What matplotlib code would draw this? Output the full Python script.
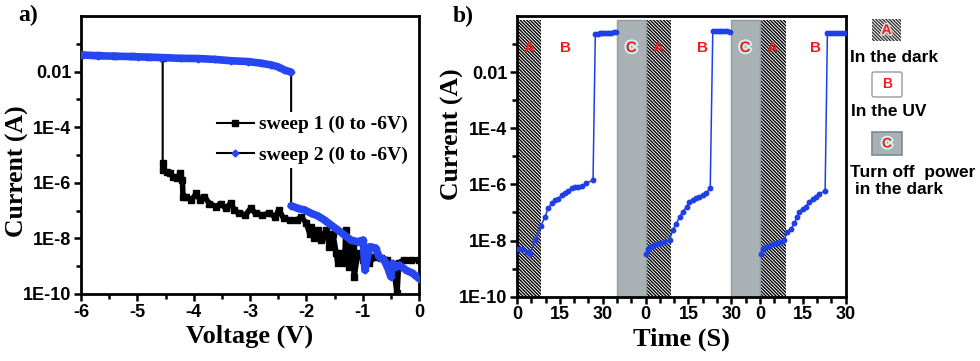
import numpy as np
import matplotlib
matplotlib.use("Agg")
import matplotlib.pyplot as plt
from matplotlib.patches import Rectangle, FancyBboxPatch
from matplotlib.transforms import Affine2D
import matplotlib.patheffects as pe

# ---------------- data: panel a ----------------
sweep1_v = [0, -0.15, -0.27, -0.36, -0.39, -0.45, -0.56, -0.68, -0.79, -0.88,
            -0.94, -1.00, -1.09, -1.15, -1.18, -1.24, -1.30, -1.32, -1.38, -1.44,
            -1.47, -1.53, -1.59, -1.65, -1.74, -1.80, -1.86, -1.91, -1.94, -2.00,
            -2.09, -2.17, -2.29, -2.40, -2.49, -2.55, -2.66, -2.78, -2.90, -2.99,
            -3.08, -3.19, -3.28, -3.34, -3.43, -3.52, -3.60, -3.72, -3.81, -3.89,
            -3.95, -4.04, -4.13, -4.19, -4.20, -4.24, -4.30, -4.36, -4.42, -4.48,
            -4.54, -4.55, -4.55, -4.8, -5.1, -5.4, -5.7, -6.0]
sweep1_i = [1.7e-9, 1.7e-9, 1.7e-9, 1.3e-9, 1.05e-10, 9.5e-10, 1.7e-9, 2.0e-9, 2.2e-9, 1.3e-9,
            2.9e-9, 1.7e-9, 2.9e-9, 4.2e-10, 5.0e-9, 9.5e-10, 2.0e-8, 1.3e-9, 2.9e-9, 1.3e-9,
            2.9e-9, 1.5e-8, 5.0e-9, 2.0e-8, 8.7e-9, 2.0e-8, 1.0e-8, 2.6e-8, 1.5e-8, 3.5e-8,
            6.0e-8, 4.6e-8, 4.6e-8, 5.2e-8, 1.05e-7, 6.0e-8, 7.9e-8, 6.9e-8, 7.9e-8, 1.2e-7,
            6.9e-8, 7.9e-8, 1.05e-7, 1.9e-7, 1.2e-7, 1.8e-7, 1.4e-7, 1.8e-7, 3.2e-7, 2.4e-7,
            4.2e-7, 2.4e-7, 3.2e-7, 3.2e-7, 1.26e-6, 2.2e-6, 1.45e-6, 1.66e-6, 2.2e-6, 2.5e-6,
            2.9e-6, 5.0e-6, 0.032, 0.034, 0.035, 0.036, 0.038, 0.040]

sweep2_v = [0, -0.11, -0.23, -0.35, -0.41, -0.47, -0.50, -0.56, -0.62, -0.71,
            -0.77, -0.87, -0.90, -0.96, -0.99, -1.09, -1.21, -1.32, -1.44, -1.56,
            -1.68, -1.80, -1.91, -2.03, -2.15, -2.27, -2.27, -2.39, -2.51, -2.63,
            -2.80, -3.04, -3.33, -3.63, -3.92, -4.22, -4.58, -4.99, -5.41, -5.70, -6.0]
sweep2_i = [3.6e-10, 5.5e-10, 7.2e-10, 1.1e-9, 9.5e-10, 1.26e-9, 4.2e-10, 9.5e-10, 1.66e-9, 2.2e-9,
            4.5e-9, 5.0e-9, 2.9e-9, 7.2e-10, 8.7e-9, 7.6e-9, 8.7e-9, 1.3e-8, 2.0e-8, 3.0e-8,
            4.6e-8, 6.5e-8, 7.9e-8, 1.05e-7, 1.2e-7, 1.5e-7, 9.5e-3, 0.0115, 0.0151, 0.0174,
            0.020, 0.023, 0.0245, 0.0275, 0.0295, 0.030, 0.032, 0.034, 0.036, 0.037, 0.040]

sweep_labels = ["sweep 1 (0 to -6V)", "sweep 2 (0 to -6V)"]
volt_ticks = [-6, -5, -4, -3, -2, -1, 0]

# ---------------- data: panel b ----------------
cycle1_t = [0.2, 1.6, 3.4, 4.5, 6.3, 8.4, 9.8, 10.9, 12.1, 13.3, 14.4, 15.6, 16.7, 17.9,
            19.1, 20.2, 21.4, 22.6, 24.3, 26.6, 27.4, 28.2, 29.0, 29.8, 30.6, 31.4,
            32.2, 33.0, 33.8, 34.8]
cycle1_i = [5.2e-9, 4.9e-9, 4.0e-9, 3.3e-9, 1.05e-8, 3.3e-8, 7.1e-8, 1.4e-7, 2.1e-7, 2.75e-7,
            3.0e-7, 4.2e-7, 4.8e-7, 5.9e-7, 7.2e-7, 7.9e-7, 8.3e-7, 8.9e-7, 1.1e-6, 1.45e-6,
            0.23, 0.235, 0.24, 0.24, 0.24, 0.245, 0.25, 0.257, 0.265, 0.275]
cycle2_t = [45.2, 45.8, 46.4, 47.5, 48.7, 49.9, 51.6, 53.4, 54.5, 55.7, 56.9, 58.0, 59.4,
            60.3, 61.5, 62.7, 63.8, 65.0, 66.2, 67.6, 68.5, 69.5, 70.5, 71.5, 72.5, 73.5, 74.6]
cycle2_i = [3.3e-9, 5.2e-9, 6.0e-9, 6.6e-9, 7.4e-9, 7.9e-9, 9.1e-9, 1.05e-8, 2.4e-8, 3.9e-8,
            7.1e-8, 1.07e-7, 1.6e-7, 2.4e-7, 2.75e-7, 3.2e-7, 3.6e-7, 4.2e-7, 5.0e-7, 7.2e-7,
            0.295, 0.295, 0.295, 0.295, 0.295, 0.295, 0.275]
cycle3_t = [85.3, 85.9, 87.1, 88.2, 89.4, 90.6, 92.1, 93.5, 94.6, 95.8, 97.0, 98.1, 98.7,
            99.9, 101.0, 102.2, 103.4, 104.5, 105.7, 107.8, 108.6, 109.6, 110.6, 111.6,
            112.6, 113.6, 114.8]
cycle3_i = [3.3e-9, 5.2e-9, 6.0e-9, 6.6e-9, 7.4e-9, 7.9e-9, 9.1e-9, 1.05e-8, 2.1e-8, 2.5e-8,
            4.1e-8, 7.1e-8, 1.07e-7, 1.3e-7, 1.6e-7, 2.4e-7, 3.0e-7, 3.6e-7, 4.6e-7, 6.0e-7,
            0.24, 0.24, 0.24, 0.24, 0.24, 0.24, 0.24]

dark_spans = [(0, 8.5), (45, 54), (85, 94)]      # A: in the dark
off_spans = [(35, 45), (75, 85)]                  # C: power off
time_ticks = [0, 15, 30, 45, 60, 75, 85, 100, 115]
time_ticklabels = ["0", "15", "30", "0", "15", "30", "0", "15", "30"]
region_labels = [("A", 4.2), ("B", 17), ("C", 40), ("A", 49.2), ("B", 64.8),
                 ("C", 79.8), ("A", 89.2), ("B", 104.5)]
legend_texts = ["In the dark", "In the UV", "Turn off  power\n in the dark"]

# ---------------- style ----------------
SERIF = "Liberation Serif"
SANS = "Liberation Sans"
BLUE_A = "#2546f0"
BLUE_B = "#1f3fe6"
RED = "#f01c1c"
GRAY_C = "#a9b1b4"
HATCH = "\\" * 10

W, H = 980, 361
fig = plt.figure(figsize=(W / 100, H / 100), dpi=100)
px = Affine2D().scale(1 / W, -1 / H).translate(0, 1) + fig.transFigure

def style_axes(ax):
    for s in ax.spines.values():
        s.set_linewidth(2.0)
    ax.tick_params(which="major", direction="out", length=5, width=1.8, pad=2)
    ax.tick_params(which="minor", direction="out", length=3.5, width=1.8)
    for lab in ax.get_xticklabels() + ax.get_yticklabels():
        lab.set_fontfamily(SANS)
        lab.set_fontweight("bold")
        lab.set_fontsize(13)

def setup_log_y(ax):
    ax.set_yscale("log")
    ax.set_ylim(1e-10, 1)
    ax.set_yticks([1e-10, 1e-8, 1e-6, 1e-4, 1e-2])
    ax.set_yticklabels(["1E-10", "1E-8", "1E-6", "1E-4", "0.01"])
    ax.set_yticks([1e-9, 1e-7, 1e-5, 1e-3, 1e-1], minor=True)
    ax.yaxis.set_minor_formatter(plt.NullFormatter())

# ---------------- panel a ----------------
ax1 = fig.add_axes([81 / W, 1 - 294 / H, 338 / W, 278 / H])
setup_log_y(ax1)

def band(ax, v, i, color, lw, z):
    v = np.asarray(v); i = np.asarray(i)
    ratio = np.abs(np.log10(i[1:]) - np.log10(i[:-1]))
    cuts = np.where(ratio > 2)[0] + 1
    start = 0
    for c in list(cuts) + [len(v)]:
        ax.plot(v[start:c], i[start:c], color=color, lw=lw, solid_capstyle="round",
                solid_joinstyle="round", zorder=z)
        start = c

band(ax1, sweep1_v, sweep1_i, "black", 4.0, 2)
l1, = ax1.plot(sweep1_v, sweep1_i, color="black", lw=1.5, marker="s", ms=4,
               mfc="black", mec="black", label=sweep_labels[0], zorder=3)
l2, = ax1.plot(sweep2_v, sweep2_i, color="black", lw=1.5, marker="D", ms=3.5,
               mfc=BLUE_A, mec=BLUE_A, label=sweep_labels[1], zorder=4)
band(ax1, sweep2_v, sweep2_i, BLUE_A, 5.5, 5)

ax1.set_xlim(-6, 0)
ax1.set_xticks(volt_ticks)
ax1.set_xticks(np.arange(-5.5, 0, 1.0), minor=True)
ax1.set_xticklabels([str(t) for t in volt_ticks])
style_axes(ax1)
ax1.set_xlabel("Voltage (V)", fontfamily=SERIF, fontweight="bold", fontsize=19, labelpad=3)
ax1.set_ylabel("Current (A)", fontfamily=SERIF, fontweight="bold", fontsize=18.5)
ax1.yaxis.set_label_coords(-0.155, 0.44)

leg = ax1.legend(handles=[l1, l2], loc="center left", bbox_to_anchor=(0.39, 0.555),
                 frameon=True, framealpha=1, edgecolor="none", facecolor="white",
                 prop={"family": SERIF, "weight": "bold", "size": 14},
                 handlelength=1.9, handletextpad=0.3, labelspacing=0.65,
                 borderpad=0.2, borderaxespad=0)
leg.set_zorder(6)

fig.text(18 / W, 1 - 15 / H, "a)", fontfamily=SERIF, fontweight="bold", fontsize=17,
         va="center", ha="left")

# ---------------- panel b ----------------
ax2 = fig.add_axes([517 / W, 1 - 296.7 / H, 328.7 / W, 280.7 / H])
setup_log_y(ax2)
ax2.set_xlim(0, 115)

for a, b in dark_spans:
    ax2.add_patch(Rectangle((a, 1e-10), b - a, 0.75 - 1e-10, facecolor="white",
                            edgecolor="black", hatch=HATCH, lw=0.0, zorder=1))
for a, b in off_spans:
    ax2.add_patch(Rectangle((a, 1e-10), b - a, 0.75 - 1e-10, facecolor=GRAY_C,
                            edgecolor="#8e9ea5", lw=1.0, zorder=1))

for t, i in [(cycle1_t, cycle1_i), (cycle2_t, cycle2_i), (cycle3_t, cycle3_i)]:
    ax2.plot(t, i, color=BLUE_B, lw=1.1, marker="o", ms=3.2, mfc=BLUE_B, mec=BLUE_B,
             zorder=3)

for lab, t in region_labels:
    txt = ax2.text(t, 0.072, lab, color=RED, fontfamily=SANS, fontweight="bold",
                   fontsize=11, ha="center", va="center", zorder=5)
    if lab == "C":
        txt.set_path_effects([pe.withStroke(linewidth=3, foreground="#c8f4f4")])

ax2.set_xticks(time_ticks)
ax2.set_xticklabels(time_ticklabels)
ax2.set_xticks([t for t in range(0, 116, 5) if t not in time_ticks], minor=True)
style_axes(ax2)
ax2.tick_params(which="minor", axis="x", length=4.5)
ax2.set_xlabel("Time (S)", fontfamily=SERIF, fontweight="bold", fontsize=19, labelpad=3)
ax2.set_ylabel("Current (A)", fontfamily=SERIF, fontweight="bold", fontsize=18.5)
ax2.yaxis.set_label_coords(-0.16, 0.58)

fig.text(453 / W, 1 - 16 / H, "b)", fontfamily=SERIF, fontweight="bold", fontsize=17,
         va="center", ha="left")

# ---------------- right-hand key ----------------
fig.add_artist(Rectangle((872, 19), 29, 22, transform=px, facecolor="white",
                         edgecolor="#333333", hatch=HATCH, lw=0.0))
fig.text(886.5 / W, 1 - 30 / H, "A", color=RED, fontfamily=SANS, fontweight="bold",
         fontsize=10, ha="center", va="center",
         path_effects=[pe.withStroke(linewidth=2.5, foreground="#d8d8d8")])
fig.text(850 / W, 1 - 57 / H, legend_texts[0], fontfamily=SANS, fontweight="bold",
         fontsize=12.5, ha="left", va="center")
fig.add_artist(FancyBboxPatch((872, 72), 30, 25, transform=px, facecolor="white",
                              edgecolor="#9a9a9a", lw=1.0,
                              boxstyle="round,pad=0,rounding_size=2"))
fig.text(887 / W, 1 - 84 / H, "B", color=RED, fontfamily=SANS, fontweight="bold",
         fontsize=10, ha="center", va="center")
fig.text(851 / W, 1 - 112 / H, legend_texts[1], fontfamily=SANS, fontweight="bold",
         fontsize=12.5, ha="left", va="center")
fig.add_artist(Rectangle((872, 132), 30, 23, transform=px, facecolor=GRAY_C,
                         edgecolor="#7d8a90", lw=1.2))
fig.text(887 / W, 1 - 143.5 / H, "C", color=RED, fontfamily=SANS, fontweight="bold",
         fontsize=10, ha="center", va="center",
         path_effects=[pe.withStroke(linewidth=3, foreground="#c8f4f4")])
fig.text(850 / W, 1 - 181 / H, legend_texts[2], fontfamily=SANS, fontweight="bold",
         fontsize=12.5, ha="left", va="center", linespacing=1.25)

fig.savefig("out.png", dpi=100)
